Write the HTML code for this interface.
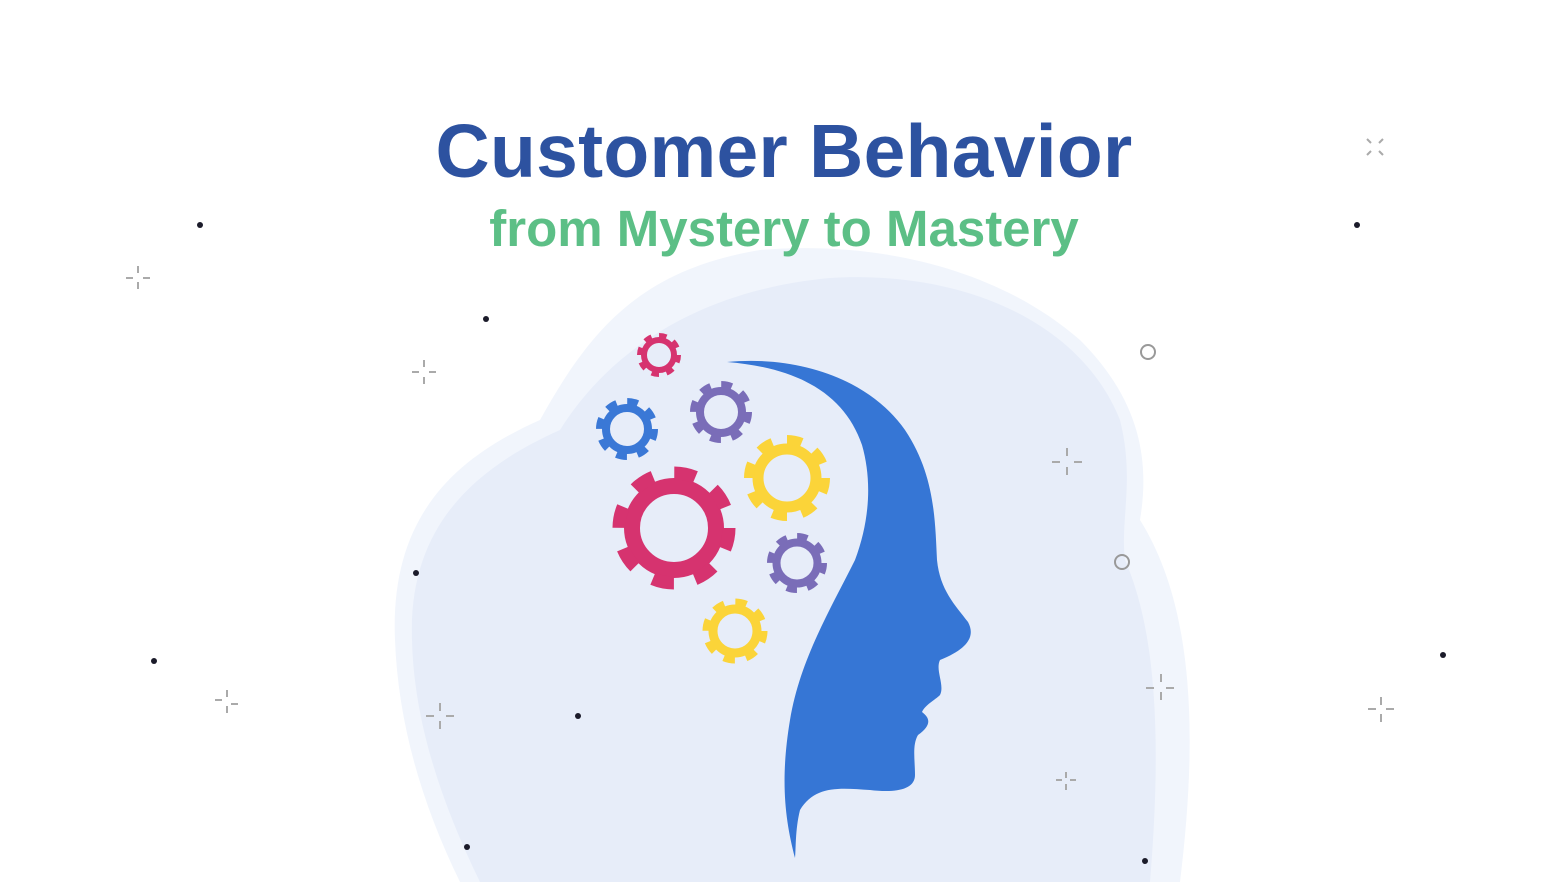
<!DOCTYPE html>
<html><head><meta charset="utf-8"><style>
html,body{margin:0;padding:0;background:#fff;}
body{width:1568px;height:882px;overflow:hidden;position:relative;font-family:"Liberation Sans",sans-serif;}
svg{position:absolute;left:0;top:0;}
.t{position:absolute;left:0;width:1568px;text-align:center;font-weight:bold;white-space:nowrap;}
</style></head><body>
<svg width="1568" height="882" viewBox="0 0 1568 882">
<path d="M395,640 C390,520 450,460 540,420 C590,330 640,270 760,250 C880,240 1000,270 1080,340 C1140,400 1150,460 1140,520 C1190,600 1200,720 1180,882 L460,882 C420,800 398,720 395,640 Z" fill="#f1f5fc"/>
<path d="M412,640 C408,530 470,470 560,430 C610,350 700,290 830,278 C960,270 1080,320 1120,420 C1135,480 1120,520 1125,560 C1160,640 1160,760 1150,882 L480,882 C440,800 414,720 412,640 Z" fill="#e7edf9"/>
<g fill="none">
<g stroke="#d6336f"><circle cx="659" cy="355" r="15" stroke-width="6"/><circle cx="659" cy="355" r="19.5" stroke-width="5" stroke-dasharray="7.6 7.7"/></g>
<g stroke="#3a78d6"><circle cx="627" cy="429" r="21" stroke-width="8"/><circle cx="627" cy="429" r="27.5" stroke-width="7" stroke-dasharray="10.8 10.8"/></g>
<g stroke="#7a6db8"><circle cx="721" cy="412" r="21" stroke-width="8"/><circle cx="721" cy="412" r="27.5" stroke-width="7" stroke-dasharray="10.8 10.8"/></g>
<g stroke="#fbd439"><circle cx="787" cy="478" r="29" stroke-width="11"/><circle cx="787" cy="478" r="38" stroke-width="10" stroke-dasharray="14.9 14.9"/></g>
<g stroke="#d6336f"><circle cx="674" cy="528" r="42" stroke-width="16"/><circle cx="674" cy="528" r="55" stroke-width="13" stroke-dasharray="21.6 21.6"/></g>
<g stroke="#7a6db8"><circle cx="797" cy="563" r="20.5" stroke-width="8"/><circle cx="797" cy="563" r="26.5" stroke-width="7" stroke-dasharray="10.4 10.4"/></g>
<g stroke="#fbd439"><circle cx="735" cy="631" r="22" stroke-width="9"/><circle cx="735" cy="631" r="29" stroke-width="7" stroke-dasharray="11.4 11.4"/></g>
</g>
<path d="M727,362 C800,355 870,380 905,430 C935,475 935,520 937,560 C940,590 955,605 968,622 C975,635 970,648 940,660 C935,670 945,685 940,695 C935,700 925,705 922,712 C930,718 932,725 918,735 C912,745 915,760 915,775 C915,790 895,793 870,790 C840,788 815,785 800,810 C795,830 796,850 795,858 C785,820 780,780 790,720 C800,660 830,610 855,560 C870,520 872,480 862,445 C845,395 800,368 727,362 Z" fill="#3676d5"/>
<g fill="#1b1b2a"><circle cx="200" cy="225" r="3"/><circle cx="486" cy="319" r="3"/><circle cx="1357" cy="225" r="3"/><circle cx="416" cy="573" r="3"/><circle cx="154" cy="661" r="3"/><circle cx="578" cy="716" r="3"/><circle cx="1443" cy="655" r="3"/><circle cx="467" cy="847" r="3"/><circle cx="1145" cy="861" r="3"/></g>
<g fill="none" stroke="#999" stroke-width="2"><circle cx="1148" cy="352" r="7"/><circle cx="1122" cy="562" r="7"/></g>
<g stroke="#aaa" stroke-width="2">
<path d="M138,266v7M138,282v7M126,278h7M143,278h7"/>
<path d="M424,360v7M424,377v7M412,372h7M429,372h7"/>
<path d="M1067,448v8M1067,467v8M1052,462h8M1074,462h8"/>
<path d="M1161,674v8M1161,692v8M1146,688h8M1166,688h8"/>
<path d="M440,703v8M440,721v8M426,716h8M446,716h8"/>
<path d="M1381,697v8M1381,714v8M1368,709h8M1386,709h8"/>
<path d="M1066,772v6M1066,784v6M1056,780h6M1070,780h6"/>
<path d="M227,690v7M227,706v7M215,700h7M231,704h7"/>
<path d="M1367,139l4,4M1379,151l4,4M1383,139l-4,4M1367,155l4,-4"/>
</g>
</svg>
<div class="t" style="top:108px;font-size:75px;color:#2d52a0;letter-spacing:0.3px;">Customer Behavior</div>
<div class="t" style="top:199px;font-size:51px;color:#5cbf86;">from Mystery to Mastery</div>
</body></html>
